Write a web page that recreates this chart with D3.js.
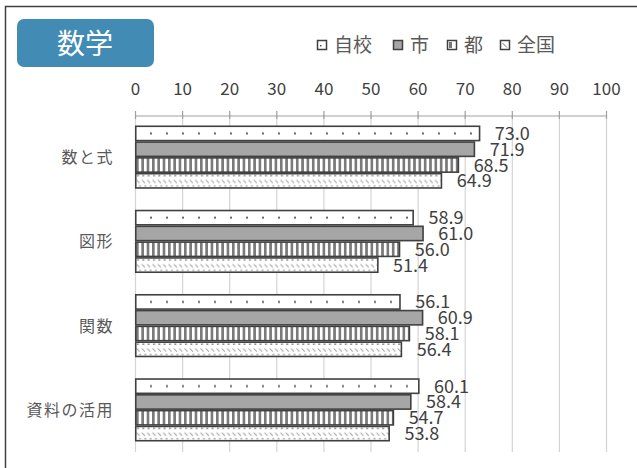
<!DOCTYPE html>
<html><head><meta charset="utf-8">
<script src="https://cdn.jsdelivr.net/npm/d3@7"></script>
<style>body{margin:0;background:#fff}svg{display:block}text{font-family:"Noto Sans CJK JP","Noto Sans",sans-serif}</style>
</head><body><svg id="c" width="637" height="468"></svg>
<script>
const categories = ["数と式", "図形", "関数", "資料の活用"];
const seriesNames = ["自校", "市", "都", "全国"];
const jiko = [73.0, 58.9, 56.1, 60.1];
const shi = [71.9, 61.0, 60.9, 58.4];
const to = [68.5, 56.0, 58.1, 54.7];
const zenkoku = [64.9, 51.4, 56.4, 53.8];
const tickValues = [0, 10, 20, 30, 40, 50, 60, 70, 80, 90, 100];
const title = "数学";

const seriesVals = [jiko, shi, to, zenkoku];
const svg = d3.select("#c");
const defs = svg.append("defs");

const x = d3.scaleLinear().domain([0,100]).range([135,606]);
const y0 = d3.scaleBand().domain(categories).range([115,452]).paddingInner(0.25).paddingOuter(0.125);
const y1 = d3.scaleBand().domain(seriesNames).range([0,y0.bandwidth()]);
const step = y0.step();

// patterns
const pDot = defs.append("pattern").attr("id","pDot").attr("patternUnits","userSpaceOnUse").attr("width",16).attr("height",step).attr("x",136).attr("y",115);
pDot.append("rect").attr("width",16).attr("height",step).attr("fill","#fff");
const pStripe = defs.append("pattern").attr("id","pStripe").attr("patternUnits","userSpaceOnUse").attr("width",5.33).attr("height",10).attr("x",136);
pStripe.append("rect").attr("width",5.33).attr("height",10).attr("fill","#fff");
pStripe.append("rect").attr("width",2.67).attr("height",10).attr("fill","#7a7a7a");
const pZen = defs.append("pattern").attr("id","pZen").attr("patternUnits","userSpaceOnUse").attr("width",5.33).attr("height",step).attr("x",136).attr("y",115);
pZen.append("rect").attr("width",5.33).attr("height",step).attr("fill","#fff");

const dotY = y0(categories[0]) - 115 + y1("自校") + y1.bandwidth()/2;
pDot.append("rect").attr("x",14).attr("y",dotY-1).attr("width",2).attr("height",2).attr("fill","#666");
const zTop = y0(categories[0]) - 115 + y1("全国");
pZen.append("rect").attr("x",1).attr("y",zTop+2).attr("width",2).attr("height",1.5).attr("fill","#888");
pZen.append("line").attr("x1",0.5).attr("y1",zTop+7).attr("x2",3.5).attr("y2",zTop+10).attr("stroke","#999").attr("stroke-width",1);
pZen.append("rect").attr("x",3).attr("y",zTop+y1.bandwidth()-3.5).attr("width",2).attr("height",1.5).attr("fill","#aaa");

const fills = ["url(#pDot)", "#a6a6a6", "url(#pStripe)", "url(#pZen)"];

// frame
svg.append("path").attr("d","M5.5,470 V6.5 H640").attr("fill","none").attr("stroke","#404040").attr("stroke-width",1.5);

// title box
svg.append("rect").attr("x",17).attr("y",19).attr("width",137).attr("height",48).attr("rx",7).attr("fill","#418bb5");
svg.append("text").attr("x",85).attr("y",54).attr("text-anchor","middle").attr("fill","#fff").attr("font-size",28).text(title);

// legend
const legX = [317, 393, 447, 500];
seriesNames.forEach((s,i)=>{
  const g = svg.append("g");
  const sq = g.append("rect").attr("x",legX[i]+0.5).attr("y",40.5).attr("width",9).attr("height",9).attr("stroke","#404040").attr("stroke-width",1.5);
  if(i===0){ sq.attr("fill","#fff"); g.append("rect").attr("x",legX[i]+3).attr("y",45).attr("width",1.5).attr("height",1.5).attr("fill","#555"); }
  else if(i===1){ sq.attr("fill","#a6a6a6"); }
  else if(i===2){ sq.attr("fill","#fff"); g.append("rect").attr("x",legX[i]+2).attr("y",42).attr("width",3).attr("height",6).attr("fill","#777"); }
  else { sq.attr("fill","#fff"); g.append("line").attr("x1",legX[i]+2.5).attr("y1",43).attr("x2",legX[i]+7).attr("y2",47.5).attr("stroke","#777").attr("stroke-width",1); }
  g.append("text").attr("x",legX[i]+17).attr("y",52).attr("font-size",19).attr("fill","#595959").text(s);
});

// grid
svg.append("g").selectAll("line").data(tickValues).join("line")
  .attr("x1",d=>x(d)+0.5).attr("x2",d=>x(d)+0.5).attr("y1",115).attr("y2",452)
  .attr("stroke","#d4d4d4").attr("stroke-width",1.2);

// axis
const ax = svg.append("g").attr("transform","translate(0,115.5)")
  .call(d3.axisTop(x).tickValues(tickValues).tickSize(0).tickPadding(21).tickFormat(d3.format("d")));
ax.select(".domain").attr("stroke","#a0a0a0").attr("stroke-width",1.2);
ax.selectAll("text").attr("font-size",17).attr("fill","#404040").attr("font-family","'Noto Sans CJK JP',sans-serif");
svg.append("g").selectAll("line").data(tickValues).join("line")
  .attr("x1",d=>x(d)+0.5).attr("x2",d=>x(d)+0.5).attr("y1",111).attr("y2",119)
  .attr("stroke","#a0a0a0").attr("stroke-width",1.2);

// category labels
svg.append("g").selectAll("text").data(categories).join("text")
  .attr("x",114).attr("y",d=>y0(d)+y0.bandwidth()/2+6).attr("text-anchor","end")
  .attr("font-size",16).attr("letter-spacing",1.5).attr("fill","#595959").text(d=>d);

// bars
const data = [];
categories.forEach((c,ci)=>seriesNames.forEach((s,si)=>data.push({c,s,si,v:seriesVals[si][ci]})));
svg.append("g").selectAll("rect").data(data).join("rect")
  .attr("x",x(0)+0.75).attr("y",d=>y0(d.c)+y1(d.s)+0.75)
  .attr("width",d=>x(d.v)-x(0)).attr("height",y1.bandwidth()-1.5)
  .attr("fill",d=>fills[d.si]).attr("stroke","#404040").attr("stroke-width",1.6);

// value labels
svg.append("g").selectAll("text").data(data).join("text")
  .attr("x",d=>x(d.v)+16).attr("y",d=>y0(d.c)+y1(d.s)+y1.bandwidth()/2+6.5)
  .attr("font-size",18).attr("fill","#404040").text(d=>d3.format(".1f")(d.v));
</script></body></html>
